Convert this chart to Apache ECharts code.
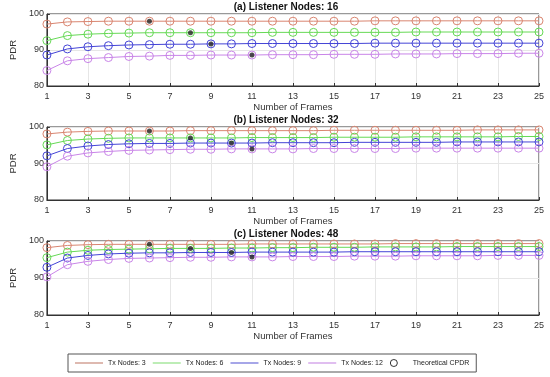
<!DOCTYPE html>
<html><head><meta charset="utf-8">
<script src="https://cdn.jsdelivr.net/npm/echarts@6/dist/echarts.min.js"></script>
<style>html,body{margin:0;padding:0;background:#fff}#c{width:550px;height:377px}</style>
</head><body><div id="c"></div>
<script>
var frames = ['1','2','3','4','5','6','7','8','9','10','11','12','13','14','15','16','17','18','19','20','21','22','23','24','25'];
var seriesNames = ['Tx Nodes: 3','Tx Nodes: 6','Tx Nodes: 9','Tx Nodes: 12'];
var panelTitles = ['(a) Listener Nodes: 16','(b) Listener Nodes: 32','(c) Listener Nodes: 48'];
var yTicks = [80, 90, 100];

// Panel (a): 16 listener nodes
var tx3_a  = [97.2,97.8,97.9,98.0,98.0,98.0,98.0,98.0,98.0,98.0,98.0,98.0,98.0,98.0,98.0,98.0,98.1,98.1,98.1,98.1,98.1,98.1,98.1,98.1,98.1];
var tx6_a  = [92.6,94.0,94.4,94.6,94.7,94.8,94.8,94.8,94.8,94.8,94.8,94.9,94.9,94.9,94.9,94.9,94.9,94.9,95.0,95.0,95.0,95.0,95.0,95.0,95.0];
var tx9_a  = [88.6,90.3,90.9,91.2,91.4,91.5,91.6,91.6,91.7,91.7,91.8,91.8,91.8,91.8,91.8,91.8,91.9,91.9,91.9,91.9,91.9,91.9,91.9,91.9,91.9];
var tx12_a = [84.3,87.0,87.6,87.9,88.2,88.3,88.5,88.5,88.6,88.6,88.6,88.7,88.7,88.7,88.8,88.8,88.8,88.9,88.9,88.9,89.0,89.0,89.0,89.1,89.1];
var theoryX_a = ['6','8','9','11'];
var theoryY_a = [98.0, 94.8, 91.7, 88.6];

// Panel (b): 32 listener nodes
var tx3_b  = [98.1,98.6,98.8,98.9,98.9,98.9,98.9,99.0,99.0,99.0,99.0,99.0,99.0,99.0,99.1,99.1,99.1,99.1,99.1,99.1,99.1,99.2,99.2,99.2,99.2];
var tx6_b  = [95.1,96.3,96.7,96.9,97.0,97.0,97.0,97.0,97.0,97.0,97.1,97.1,97.1,97.1,97.2,97.2,97.2,97.2,97.3,97.3,97.3,97.3,97.3,97.4,97.4];
var tx9_b  = [92.1,94.1,94.8,95.2,95.4,95.5,95.5,95.6,95.6,95.6,95.6,95.7,95.7,95.7,95.7,95.8,95.8,95.8,95.8,95.8,95.9,95.9,95.9,95.9,95.9];
var tx12_b = [89.1,92.0,92.9,93.3,93.6,93.7,93.8,93.9,93.9,94.0,94.0,94.0,94.0,94.1,94.1,94.1,94.1,94.1,94.2,94.2,94.2,94.2,94.2,94.2,94.2];
var theoryX_b = ['6','8','10','11'];
var theoryY_b = [98.9, 97.0, 95.6, 94.0];

// Panel (c): 48 listener nodes
var tx3_c  = [98.2,98.8,99.0,99.1,99.1,99.1,99.1,99.1,99.1,99.1,99.2,99.2,99.2,99.2,99.2,99.2,99.2,99.3,99.3,99.3,99.3,99.3,99.3,99.3,99.3];
var tx6_c  = [95.5,97.0,97.5,97.7,97.8,97.9,98.0,98.0,98.0,98.1,98.1,98.2,98.2,98.3,98.3,98.3,98.4,98.4,98.4,98.4,98.5,98.5,98.5,98.5,98.5];
var tx9_c  = [92.9,95.4,96.1,96.5,96.7,96.8,96.8,96.9,96.9,96.9,97.0,97.0,97.0,97.0,97.0,97.1,97.1,97.1,97.1,97.1,97.1,97.1,97.1,97.1,97.1];
var tx12_c = [90.3,93.6,94.5,95.0,95.3,95.4,95.5,95.6,95.6,95.7,95.7,95.7,95.8,95.8,95.8,95.9,95.9,95.9,96.0,96.0,96.0,96.0,96.1,96.1,96.1];
var theoryX_c = ['6','8','10','11'];
var theoryY_c = [99.1, 98.0, 96.9, 95.7];

var panels = [
  {lines:[tx3_a,tx6_a,tx9_a,tx12_a], tx:theoryX_a, ty:theoryY_a, top:14, height:72},
  {lines:[tx3_b,tx6_b,tx9_b,tx12_b], tx:theoryX_b, ty:theoryY_b, top:127, height:73},
  {lines:[tx3_c,tx6_c,tx9_c,tx12_c], tx:theoryX_c, ty:theoryY_c, top:241, height:74}
];
var lineColors = ['#d98570','#66d955','#4444d6','#c985e8'];
var legendColors = ['#d6a89c','#ace9a4','#9090e2','#d9aeec'];
var FONT = 'Liberation Sans, Arial, sans-serif';

var grids = [], xAxes = [], yAxes = [], series = [], graphics = [];
panels.forEach(function(p, i){
  grids.push({left:33, right:11, top:p.top, height:p.height, show:true, borderColor:'#333', borderWidth:1, backgroundColor:'#fff'});
  xAxes.push({type:'category', gridIndex:i, data:frames, boundaryGap:false,
    name:'Number of Frames', nameLocation:'middle', nameGap:15,
    nameTextStyle:{fontFamily:FONT, fontSize:9.5, color:'#333'},
    axisLine:{lineStyle:{color:'#333'}},
    axisTick:{inside:true, length:3, interval:1, lineStyle:{color:'#333'}},
    axisLabel:{interval:1, fontFamily:FONT, fontSize:9, color:'#333', margin:6},
    splitLine:{show:true, interval:1, lineStyle:{color:'#e6e6e6', width:1}}
  });
  yAxes.push({type:'value', gridIndex:i, min:yTicks[0], max:yTicks[yTicks.length-1], interval:yTicks[1]-yTicks[0],
    name:'PDR', nameLocation:'middle', nameGap:22, nameRotate:90,
    nameTextStyle:{fontFamily:FONT, fontSize:9.5, color:'#333'},
    axisLine:{show:true, lineStyle:{color:'#333'}},
    axisTick:{show:true, inside:true, length:3, lineStyle:{color:'#333'}},
    axisLabel:{fontFamily:FONT, fontSize:9, color:'#333', margin:3},
    splitLine:{show:true, lineStyle:{color:'#e6e6e6', width:1}}
  });
  p.lines.forEach(function(vals, k){
    series.push({type:'line', name:seriesNames[k], xAxisIndex:i, yAxisIndex:i, data:vals,
      symbol:'circle', symbolSize:8, showAllSymbol:true,
      lineStyle:{color:lineColors[k], width:1},
      itemStyle:{color:'rgba(0,0,0,0)', borderColor:lineColors[k], borderWidth:1},
      emphasis:{disabled:true}, animation:false, z:2});
  });
  series.push({type:'scatter', name:'Theoretical CPDR', xAxisIndex:i, yAxisIndex:i,
    data:p.tx.map(function(x, j){ return [x, p.ty[j]]; }),
    symbol:'circle', symbolSize:5, itemStyle:{color:'#222'}, animation:false, z:5});
  graphics.push({type:'text', x:286, y:p.top - 7, style:{text:panelTitles[i], font:'bold 10px ' + FONT, fill:'#111', textAlign:'center', textVerticalAlign:'middle'}});
});

var legendData = seriesNames.map(function(n, k){
  return {name:n, icon:'path://M0,0h28v1.6h-28z', itemStyle:{color:legendColors[k], borderWidth:0}};
});
legendData.push({name:'Theoretical CPDR', icon:'circle', itemStyle:{color:'#fff', borderColor:'#000', borderWidth:1}});

var chart = echarts.init(document.getElementById('c'), null, {renderer:'canvas'});
chart.setOption({
  animation:false,
  backgroundColor:'#fff',
  grid:grids, xAxis:xAxes, yAxis:yAxes, series:series,
  graphic:graphics,
  legend:{data:legendData, left:68, top:354, orient:'horizontal', padding:[5,7,5,7],
    itemWidth:28, itemHeight:7, itemGap:7, symbolKeepAspect:true,
    borderColor:'#555', borderWidth:1, backgroundColor:'#fff',
    textStyle:{fontFamily:FONT, fontSize:7, color:'#222'}, selectedMode:false}
});
</script></body></html>
